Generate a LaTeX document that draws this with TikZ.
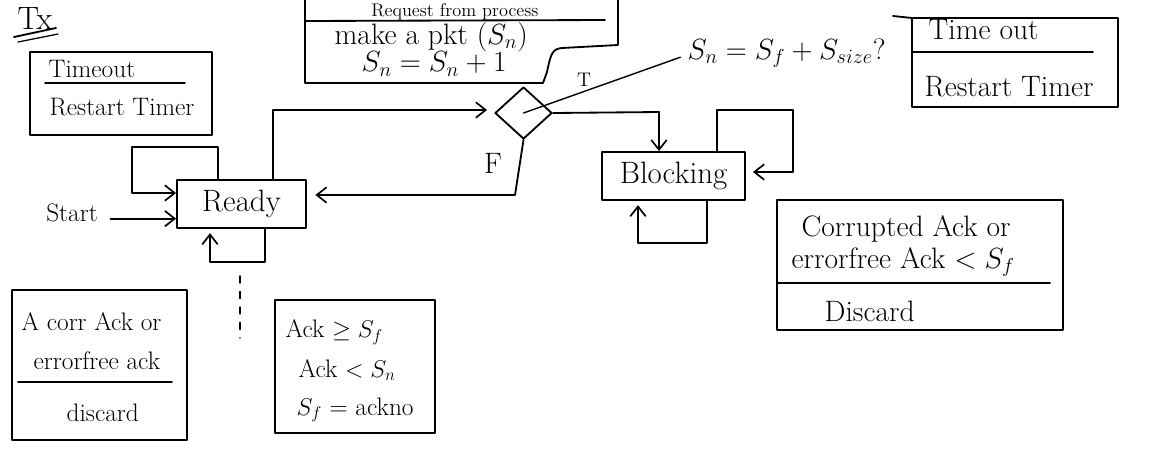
\documentclass[tikz,border=0pt]{standalone}
\usetikzlibrary{arrows.meta,shapes.geometric,calc}
\begin{document}
\begin{tikzpicture}[x=0.025cm,y=-0.025cm,
  ln/.style={line width=1.3pt, line cap=round, line join=round},
  arr/.style={ln, -{Straight Barb[length=7pt,width=11pt,line width=1.2pt]}},
  state/.style={draw, ln, inner sep=0pt, font=\fontsize{22}{26}\selectfont},
  box/.style={draw, ln, inner sep=0pt},
  big/.style={font=\fontsize{21}{24}\selectfont, inner sep=1pt},
  mid/.style={font=\fontsize{18}{21}\selectfont, inner sep=1pt}]
\useasboundingbox (0,0) rectangle (1151,450);

% ---- title
\node[font=\fontsize{23}{26}\selectfont, inner sep=1pt] (tx) at (35,18) {Tx};
\draw[ln] (14,37) -- (56,28);
\draw[ln, line width=0.9pt] (18,42) -- (58,34);

% ---- states
\node[state, minimum width=3.225cm, minimum height=1.2cm] (ready) at (241.5,204) {Ready};
\node[state, minimum width=3.575cm, minimum height=1.2cm] (blk) at (673.5,176) {Blocking};
\node[draw, ln, diamond, minimum width=1.425cm, minimum height=1.3cm, inner sep=0pt] (dia) at (523.5,113) {};

% ---- Start
\node[mid] (start) at (72,213) {Start};
\draw[arr] ([xshift=8pt,yshift=-4pt]start.east) -- ([yshift=-4pt]start.east -| ready.west);

% ---- Ready loops
\coordinate (c1) at (218,147);
\coordinate (c1b) at (132,147);
\coordinate (c1c) at (132,193);
\draw[arr] (c1 |- ready.north) -- (c1) -- (c1b) -- (c1c) -- (c1c -| ready.west);
\coordinate (c2) at (265,262);
\coordinate (c3) at (210,262);
\draw[arr] (c2 |- ready.south) -- (c2) -- (c3) -- ([yshift=-3pt]c3 |- ready.south);

% ---- Ready -> decision
\coordinate (c4) at (273,110);
\draw[arr] (c4 |- ready.north) -- (c4) -- ([xshift=-5pt]c4 -| dia.west);

% ---- decision true -> Blocking
\coordinate (c5) at (659,112);
\draw[arr] (dia.east) -- (c5) -- (c5 |- blk.north);
\node[font=\fontsize{14}{16}\selectfont] (tl) at (584,80) {T};

% ---- decision false -> Ready
\coordinate (c6) at (515,195);
\draw[arr] (dia.south) -- (c6) -- ([xshift=6pt]c6 -| ready.east);
\node[big] (fl) at (493,163) {F};

% ---- question
\node[big, anchor=west] (q) at (686,53) {$S_n = S_f + S_{size}$?};
\draw[ln, line width=1pt] (dia.center) -- ([xshift=-4pt,yshift=-3pt]q.west);

% ---- Blocking loops
\coordinate (c7) at (717,110);
\coordinate (c8) at (793,110);
\coordinate (c9) at (793,172);
\draw[arr] (c7 |- blk.north) -- (c7) -- (c8) -- (c9) -- ([xshift=5pt]c9 -| blk.east);
\coordinate (d1) at (707,243);
\coordinate (d2) at (638,243);
\draw[arr] (d1 |- blk.south) -- (d1) -- (d2) -- ([yshift=-3pt]d2 |- blk.south);

% ---- top action box (cut by the page edge)
\draw[ln] (305,-5) -- (305,83) -- (543,83) -- (547,72) .. controls (551,52) and (553,49) .. (562,48) -- (618,45) -- (618,-5);
\draw[ln] (305,21) -- (605,20);
\node[font=\fontsize{13}{15}\selectfont, inner sep=0pt, anchor=base] (req) at (455,16) {Request from process};
\node[big, anchor=west] (mk) at (333,37) {make a pkt ($S_n$)};
\node[big, anchor=west] (inc) at (360,64) {$S_n = S_n + 1$};

% ---- left timeout box
\node[box, minimum width=4.55cm, minimum height=2.075cm] (tbl) at (121,93.5) {};
\draw[ln] (45,83) -- (185,83);
\node[mid, anchor=west] (tol) at (47,69) {Timeout};
\node[mid, anchor=west] (rtl) at (48,107) {Restart Timer};

% ---- right timeout box
\node[box, minimum width=5.15cm, minimum height=2.225cm] (tbr) at (1015,62.5) {};
\draw[ln] (893,16) -- (912,18);
\draw[ln] (912,52) -- (1093,52);
\node[big, anchor=west] (tor) at (927,30) {Time out};
\node[big, anchor=west] (rtr) at (923,87) {Restart Timer};

% ---- corrupted box
\node[box, minimum width=7.15cm, minimum height=3.25cm] (cbox) at (920,265) {};
\draw[ln] (777,283) -- (1050,283);
\node[big, anchor=west] (co1) at (800,229) {Corrupted Ack or};
\node[big, anchor=west] (co2) at (790,262) {errorfree Ack $<S_f$};
\node[big, anchor=west] (co3) at (823,311) {Discard};

% ---- bottom-left box
\node[box, minimum width=4.375cm, minimum height=3.75cm] (bbl) at (99.5,365) {};
\draw[ln] (18,382) -- (172,382);
\node[mid, anchor=west] (bl1) at (20,322) {A corr Ack or};
\node[mid, anchor=west] (bl2) at (32,361) {errorfree ack};
\node[mid, anchor=west] (bl3) at (65,413) {discard};

% ---- ack box
\node[box, minimum width=4cm, minimum height=3.325cm] (abox) at (355,366.5) {};
\node[mid, anchor=west] (a1) at (284,332) {Ack $\geq S_f$};
\node[mid, anchor=west] (a2) at (297,370) {Ack $< S_n$};
\node[mid, anchor=west] (a3) at (295,410) {$S_f$ = ackno};

% ---- small mark
\draw[ln, line width=0.9pt, dash pattern=on 5pt off 6pt] (240,276) -- (240,338);
\end{tikzpicture}
\end{document}
